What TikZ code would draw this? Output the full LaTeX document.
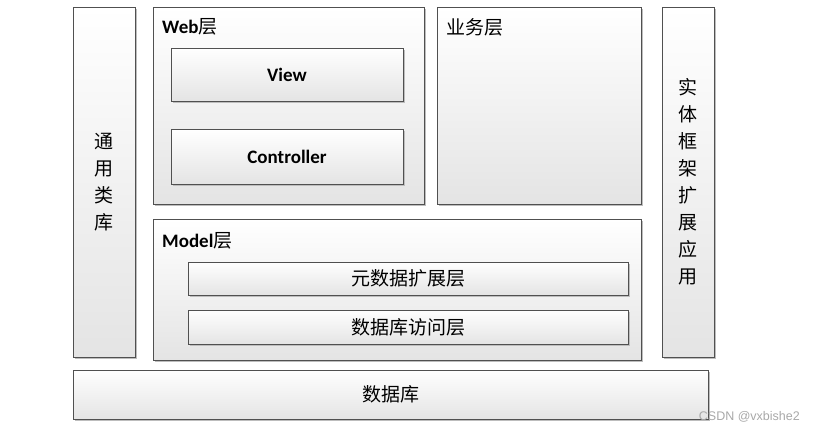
\documentclass[tikz,border=0pt]{standalone}
\usepackage{fontspec}
\setmainfont{Carlito}
\newfontfamily\cjk{Noto Sans CJK SC}
\newfontfamily\marksans{Liberation Sans}
\usetikzlibrary{shadows}

\begin{document}
\begin{tikzpicture}[x=1pt,y=-1pt,
  layerbox/.style={draw=boxline,line width=0.8pt,top color=white,bottom color=boxfill,
    drop shadow={shadow xshift=2pt,shadow yshift=-2pt,fill=shadowgray,opacity=1},
    anchor=north west,inner sep=0pt,outer sep=0pt},
  latinfont/.style={font=\bfseries\fontsize{19}{22}\selectfont},
  cjkfont/.style={font=\cjk\fontsize{19}{22}\selectfont},
  vertfont/.style={align=center,font=\cjk\fontsize{19}{27}\selectfont},
  title/.style={anchor=base west,inner sep=0pt}]
\definecolor{boxline}{HTML}{505050}
\definecolor{boxfill}{HTML}{E4E4E4}
\definecolor{shadowgray}{HTML}{BDBDBD}
\definecolor{markgray}{HTML}{A8A8A8}
\useasboundingbox (0,0) rectangle (813,432);
% side columns
\node [layerbox,vertfont,minimum width=62,minimum height=350] (lib) at (73,7) {通\\用\\类\\库};
\node [layerbox,vertfont,minimum width=52,minimum height=350] (ef) at (662,7) {实\\体\\框\\架\\扩\\展\\应\\用};
% web layer
\node [layerbox,minimum width=271,minimum height=197] (web) at (153,7) {};
\node [title] (webtitle) at (162,33) {{\bfseries\fontsize{19}{22}\selectfont Web}{\cjk\fontsize{19}{22}\selectfont 层}};
\node [layerbox,latinfont,minimum width=232,minimum height=53] (view) at (171,48) {View};
\node [layerbox,latinfont,minimum width=232,minimum height=55] (ctrl) at (171,129) {Controller};
% business layer
\node [layerbox,minimum width=204,minimum height=197] (biz) at (437,7) {};
\node [title,cjkfont] (biztitle) at (446,34) {业务层};
% model layer
\node [layerbox,minimum width=488,minimum height=141] (model) at (153,219) {};
\node [title] (modeltitle) at (162,247) {{\bfseries\fontsize{19}{22}\selectfont Model}{\cjk\fontsize{19}{22}\selectfont 层}};
\node [layerbox,cjkfont,minimum width=440,minimum height=33] (meta) at (188,262) {元数据扩展层};
\node [layerbox,cjkfont,minimum width=440,minimum height=34] (dal) at (188,310) {数据库访问层};
% database
\node [layerbox,cjkfont,minimum width=635,minimum height=49] (db) at (73,370) {数据库};
\node [anchor=east,inner sep=0pt,text=markgray,font=\marksans\fontsize{12.5}{14}\selectfont] (mark) at (800,417) {CSDN @vxbishe2};
\end{tikzpicture}
\end{document}
